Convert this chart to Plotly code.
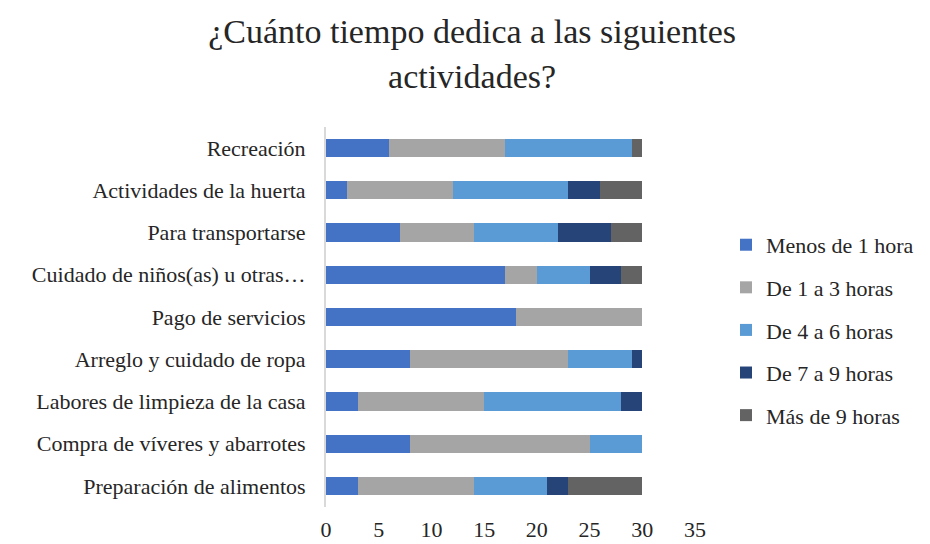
import plotly.graph_objects as go

categories = [
    "Preparación de alimentos",
    "Compra de víveres y abarrotes",
    "Labores de limpieza de la casa",
    "Arreglo y cuidado de ropa",
    "Pago de servicios",
    "Cuidado de niños(as) u otras…",
    "Para transportarse",
    "Actividades de la huerta",
    "Recreación",
]

menos_1 = [3, 8, 3, 8, 18, 17, 7, 2, 6]
de_1_3 = [11, 17, 12, 15, 12, 3, 7, 10, 11]
de_4_6 = [7, 5, 13, 6, 0, 5, 8, 11, 12]
de_7_9 = [2, 0, 2, 1, 0, 3, 5, 3, 0]
mas_9 = [7, 0, 0, 0, 0, 2, 3, 4, 1]

series = [
    ("Menos de 1 hora", menos_1, "#4472C4"),
    ("De 1 a 3 horas", de_1_3, "#A5A5A5"),
    ("De 4 a 6 horas", de_4_6, "#5B9BD5"),
    ("De 7 a 9 horas", de_7_9, "#264478"),
    ("Más de 9 horas", mas_9, "#636363"),
]

x_ticks = [0, 5, 10, 15, 20, 25, 30, 35]

fig = go.Figure()
for name, vals, color in series:
    fig.add_trace(go.Bar(
        y=categories, x=vals, name=name, orientation="h",
        marker=dict(color=color, line=dict(width=0)),
        legendgroup=name,
    ))

font = "Liberation Serif, Times New Roman, serif"
fig.update_layout(
    barmode="stack",
    bargap=0.57,
    width=930, height=544,
    paper_bgcolor="white", plot_bgcolor="white",
    margin=dict(l=318, r=243, t=119, b=45, autoexpand=False),
    font=dict(family=font, size=22, color="#262626"),
    title=dict(
        text="¿Cuánto tiempo dedica a las siguientes<br>actividades?",
        x=0.499, xanchor="center", y=0.935, yanchor="top",
        font=dict(family=font, size=34, color="#262626"),
    ),
    xaxis=dict(
        range=[0, 35], tickvals=x_ticks, showgrid=False, zeroline=False,
        showline=False, ticks="", tickfont=dict(size=22), automargin=False,
        ticklabelstandoff=7,
    ),
    yaxis=dict(
        showgrid=False, zeroline=False, showline=True, linecolor="#D9D9D9",
        linewidth=2, ticks="", ticklen=0, tickfont=dict(size=22),
        ticklabelstandoff=14, automargin=False,
        categoryorder="array", categoryarray=categories,
    ),
    legend=dict(
        x=1.084, xanchor="left", y=0.466, yanchor="middle",
        traceorder="grouped", tracegroupgap=11,
        font=dict(size=22), itemwidth=30,
    ),
)

fig.write_html("out.html")
